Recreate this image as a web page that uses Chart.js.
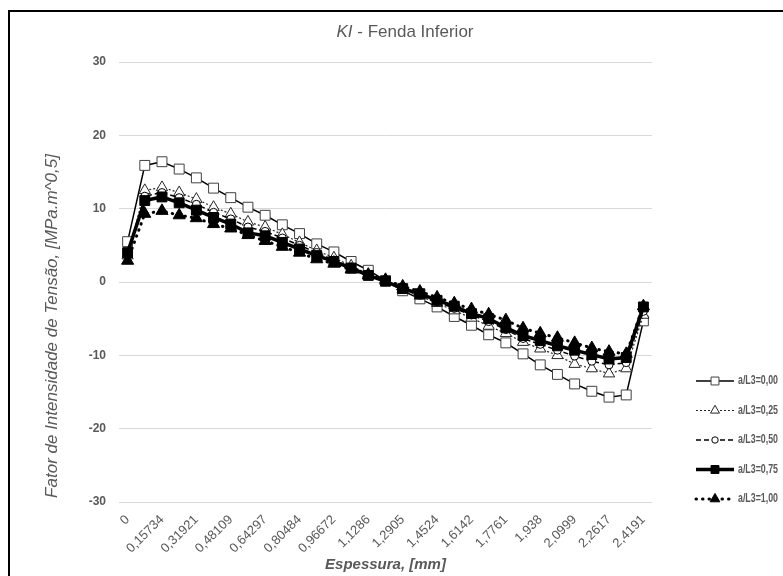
<!DOCTYPE html>
<html>
<head>
<meta charset="utf-8">
<script src="https://cdn.jsdelivr.net/npm/chart.js@4/dist/chart.umd.min.js"></script>
<style>
    html, body { margin: 0; padding: 0; background: #fff; }
    #wrap { position: absolute; left: 0; top: 0; width: 783px; height: 576px; }
</style>
</head>
<body>
<div id="wrap"><canvas id="myChart" width="783" height="576"></canvas></div>
<script>
// Espessura, [mm] (only every other label is shown on the axis)
var espessura = ['0', '0,07867', '0,15734', '0,23828', '0,31921', '0,40015', '0,48109', '0,56203',
    '0,64297', '0,7239', '0,80484', '0,88578', '0,96672', '1,0477', '1,1286', '1,2095',
    '1,2905', '1,3714', '1,4524', '1,5333', '1,6142', '1,6952', '1,7761', '1,857',
    '1,938', '2,0189', '2,0999', '2,1808', '2,2617', '2,3404', '2,4191'];

var serieNames = ['a/L3=0,00', 'a/L3=0,25', 'a/L3=0,50', 'a/L3=0,75', 'a/L3=1,00'];

var kI_000 = [5.5, 15.9, 16.4, 15.4, 14.2, 12.8, 11.5, 10.2, 9.1, 7.8, 6.6, 5.2, 4.1, 2.8, 1.6, 0.2,
    -1.2, -2.3, -3.4, -4.7, -5.9, -7.2, -8.3, -9.8, -11.3, -12.6, -13.9, -14.9, -15.7, -15.4, -5.3];
var kI_025 = [3.6, 12.5, 12.9, 12.2, 11.3, 10.2, 9.3, 8.2, 7.5, 6.5, 5.4, 4.3, 3.3, 2.2, 1.1, 0.1,
    -1.0, -1.9, -2.9, -3.9, -4.9, -6.0, -7.0, -8.2, -9.1, -10.0, -11.2, -11.8, -12.5, -11.8, -4.5];
var kI_050 = [3.6, 11.7, 12.2, 11.5, 10.6, 9.5, 8.6, 7.5, 6.9, 6.0, 5.0, 4.0, 3.0, 2.0, 1.0, 0.1,
    -0.9, -1.8, -2.7, -3.6, -4.5, -5.4, -6.5, -7.7, -8.5, -9.3, -10.1, -10.8, -11.3, -11.0, -4.0];
var kI_075 = [4.0, 11.1, 11.6, 10.8, 9.8, 8.8, 7.9, 6.7, 6.3, 5.4, 4.5, 3.6, 2.8, 1.9, 0.9, 0.1,
    -0.9, -1.6, -2.5, -3.3, -4.3, -5.0, -6.2, -7.3, -8.0, -8.7, -9.3, -9.9, -10.5, -10.3, -3.4];
var kI_100 = [2.9, 9.3, 9.7, 9.1, 8.7, 7.9, 7.3, 6.4, 5.6, 4.8, 4.0, 3.1, 2.5, 1.7, 0.9, 0.3,
    -0.6, -1.3, -2.1, -2.9, -3.7, -4.4, -5.2, -6.3, -7.0, -7.6, -8.3, -9.0, -9.5, -9.8, -3.3];

var yTicks = [-30, -20, -10, 0, 10, 20, 30];

var grey = '#595959';
var font = '"Liberation Sans", Arial, sans-serif';

// Frame, titles and the Excel-like legend (line sample + marker)
var decorPlugin = {
    id: 'decor',
    afterDraw: function(chart) {
        var ctx = chart.ctx;
        var area = chart.chartArea;
        ctx.save();

        // frame: only top and left edges fall inside the picture
        ctx.strokeStyle = '#000';
        ctx.lineWidth = 2;
        ctx.strokeRect(9, 11, 790, 590);

        // title: "KI" in italic, rest upright
        ctx.fillStyle = grey;
        ctx.textBaseline = 'middle';
        ctx.font = 'italic 17px ' + font;
        var partA = 'KI';
        var partB = ' - Fenda Inferior';
        var wA = ctx.measureText(partA).width;
        ctx.font = '17px ' + font;
        var wB = ctx.measureText(partB).width;
        var tx = 405 - (wA + wB) / 2;
        ctx.font = 'italic 17px ' + font;
        ctx.textAlign = 'left';
        ctx.fillText(partA, tx, 32);
        ctx.font = '17px ' + font;
        ctx.fillText(partB, tx + wA, 32);

        // axis titles
        ctx.textAlign = 'center';
        ctx.font = 'bold italic 15px ' + font;
        ctx.fillText('Espessura, [mm]', (area.left + area.right) / 2, 565);

        ctx.save();
        ctx.translate(52, 326);
        ctx.rotate(-Math.PI / 2);
        ctx.font = 'italic 17px ' + font;
        ctx.fillText('Fator de Intensidade de Tensão, [MPa.m^0,5]', 0, 0);
        ctx.restore();

        // legend
        chart.data.datasets.forEach(function(ds, i) {
            var y = 381 + i * 29.5;
            var x0 = 696, x1 = 734, xm = (x0 + x1) / 2;
            ctx.save();
            ctx.strokeStyle = ds.borderColor;
            ctx.lineWidth = ds.borderWidth;
            ctx.lineCap = ds.borderCapStyle || 'butt';
            ctx.setLineDash(ds.borderDash || []);
            ctx.beginPath();
            ctx.moveTo(x0, y);
            ctx.lineTo(x1, y);
            ctx.stroke();
            ctx.restore();
            ctx.save();
            ctx.fillStyle = ds.pointBackgroundColor;
            ctx.strokeStyle = ds.pointBorderColor;
            ctx.lineWidth = ds.pointBorderWidth;
            Chart.helpers.drawPoint(ctx, {
                pointStyle: ds.pointStyle,
                rotation: 0,
                radius: ds.pointRadius * 0.8,
                borderWidth: ds.pointBorderWidth
            }, xm, y);
            ctx.restore();
            ctx.fillStyle = grey;
            ctx.textAlign = 'left';
            ctx.font = 'bold 12px ' + font;
            // the legend font in the picture is condensed
            ctx.fillText(serieNames[i], 738, y, 40);
        });
        ctx.restore();
    }
};

var ctx = document.getElementById('myChart').getContext('2d');
var chart = new Chart(ctx, {
    type: 'line',
    data: {
        labels: espessura,
        datasets: [{
            label: serieNames[0],
            data: kI_000,
            borderColor: '#000',
            borderWidth: 1.5,
            pointStyle: 'rect',
            pointRadius: 7,
            pointBackgroundColor: '#fff',
            pointBorderColor: '#404040',
            pointBorderWidth: 1,
            order: 4
        }, {
            label: serieNames[1],
            data: kI_025,
            borderColor: '#262626',
            borderWidth: 1.2,
            borderDash: [2, 2],
            pointStyle: 'triangle',
            pointRadius: 6.5,
            pointBackgroundColor: '#fff',
            pointBorderColor: '#262626',
            pointBorderWidth: 1,
            order: 3
        }, {
            label: serieNames[2],
            data: kI_050,
            borderColor: '#000',
            borderWidth: 1.5,
            borderDash: [5, 3],
            pointStyle: 'circle',
            pointRadius: 4,
            pointBackgroundColor: '#fff',
            pointBorderColor: '#000',
            pointBorderWidth: 1,
            order: 2
        }, {
            label: serieNames[3],
            data: kI_075,
            borderColor: '#000',
            borderWidth: 3.5,
            pointStyle: 'rect',
            pointRadius: 7,
            pointBackgroundColor: '#000',
            pointBorderColor: '#000',
            pointBorderWidth: 1,
            order: 1
        }, {
            label: serieNames[4],
            data: kI_100,
            borderColor: '#000',
            borderWidth: 3,
            borderDash: [0.5, 6],
            borderCapStyle: 'round',
            pointStyle: 'triangle',
            pointRadius: 7,
            pointBackgroundColor: '#000',
            pointBorderColor: '#000',
            pointBorderWidth: 1,
            order: 0
        }]
    },
    options: {
        responsive: false,
        animation: false,
        layout: { padding: { left: 0, right: 131, top: 62, bottom: 0 } },
        plugins: {
            legend: { display: false },
            title: { display: false },
            tooltip: { enabled: false }
        },
        scales: {
            x: {
                type: 'category',
                offset: true,
                grid: { display: false },
                border: { display: false },
                afterFit: function(scale) { scale.height = 74; },
                ticks: {
                    autoSkip: false,
                    maxRotation: 45,
                    minRotation: 45,
                    padding: 2,
                    color: grey,
                    font: { family: font, size: 13 },
                    callback: function(val, index) {
                        return index % 2 === 0 ? espessura[index] : '';
                    }
                }
            },
            y: {
                min: yTicks[0],
                max: yTicks[yTicks.length - 1],
                afterFit: function(scale) { scale.width = 119; },
                afterBuildTicks: function(scale) {
                    scale.ticks = yTicks.map(function(v) { return { value: v }; });
                },
                grid: { color: '#d9d9d9', lineWidth: 1, drawTicks: false },
                border: { display: false },
                ticks: {
                    padding: 13,
                    color: grey,
                    font: { family: font, size: 12, weight: 'bold' }
                }
            }
        }
    },
    plugins: [decorPlugin]
});
</script>
</body>
</html>
